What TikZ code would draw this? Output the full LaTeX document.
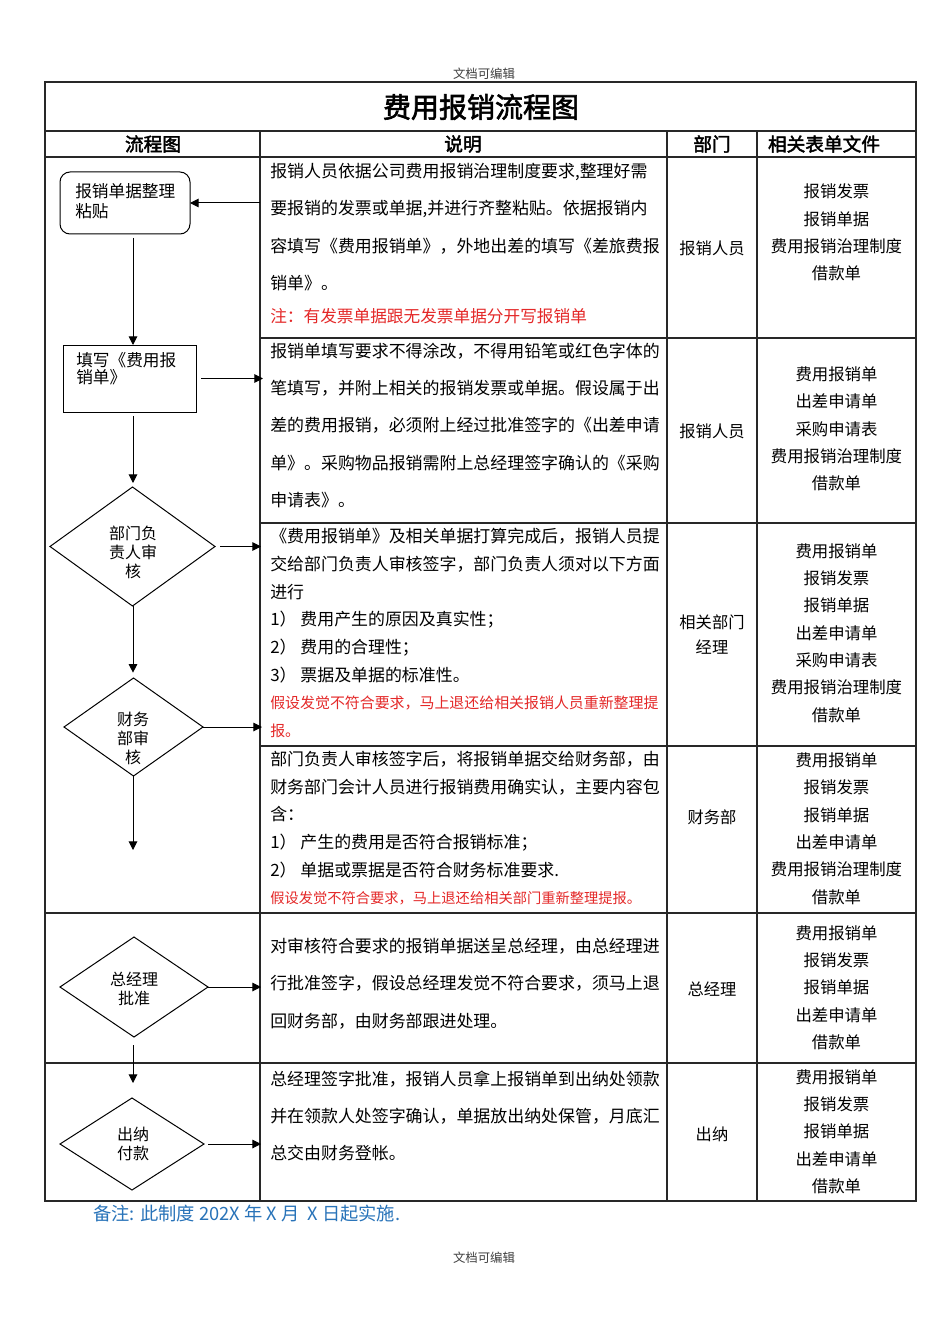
\documentclass[tikz,border=0pt]{standalone}
\usepackage{fontspec}
\usetikzlibrary{arrows.meta,shapes.geometric}
\newfontfamily\cjk{Noto Sans CJK SC}
\newfontfamily\cjkbf[FakeBold=2.2]{Noto Sans CJK SC}
\definecolor{notered}{RGB}{228,40,40}
\definecolor{noteblue}{RGB}{40,115,185}
\definecolor{gridc}{RGB}{40,40,40}
\begin{document}
\begin{tikzpicture}[x=0.75pt,y=-0.75pt,
  grid/.style={draw=gridc, line width=0.8pt},
  arr/.style={-{Triangle[length=6.5pt,width=6.5pt]}, line width=0.75pt, black},
  shapebox/.style={draw, line width=0.75pt, inner sep=0pt, outer sep=0pt},
  dia/.style={shapebox, diamond},
  desca/.style={anchor=west, align=left, inner sep=0pt, font=\cjk\fontsize{12.7pt}{28pt}\selectfont},
  descb/.style={anchor=west, align=left, inner sep=0pt, font=\cjk\fontsize{12.7pt}{20.8pt}\selectfont},
  redn/.style={anchor=west, align=left, inner sep=0pt, text=notered},
  dept/.style={align=center, inner sep=0pt, font=\cjk\fontsize{12.2pt}{18.75pt}\selectfont},
  files/.style={align=center, inner sep=0pt, font=\cjk\fontsize{12.3pt}{20.5pt}\selectfont},
  flowc/.style={align=center, inner sep=0pt, font=\cjk\fontsize{12pt}{14.25pt}\selectfont},
  flowl/.style={anchor=west, align=left, inner sep=0pt},
  hdr/.style={inner sep=0pt, font=\cjkbf\fontsize{14pt}{16pt}\selectfont},
  pagehd/.style={inner sep=0pt, text=black!75, font=\cjk\fontsize{9.3pt}{11pt}\selectfont}
]
\fill[white] (0,0) rectangle (950,1344);
\useasboundingbox (0,0) rectangle (950,1344);

% page header / footer
\node[pagehd] (ph) at (484,74) {文档可编辑};
\node[pagehd] (pf) at (484,1258) {文档可编辑};

% table grid
\draw[grid] (45,82) rectangle (916,1201);
\draw[grid] (45,131) -- (916,131);
\draw[grid] (45,157) -- (916,157);
\draw[grid] (260,131) -- (260,1201);
\draw[grid] (667,131) -- (667,1201);
\draw[grid] (757,131) -- (757,1201);
\draw[grid] (260,338) -- (916,338);
\draw[grid] (260,523) -- (916,523);
\draw[grid] (260,746) -- (916,746);
\draw[grid] (45,913) -- (916,913);
\draw[grid] (45,1063) -- (916,1063);

% title and headers
\node[inner sep=0pt, font=\cjkbf\fontsize{21pt}{24pt}\selectfont] (title) at (481,107) {费用报销流程图};
\node[hdr] (h1) at (153,144) {流程图};
\node[hdr] (h2) at (463,144) {说明};
\node[hdr] (h3) at (712,144) {部门};
\node[hdr] (h4) at (824,144) {相关表单文件};

% descriptions
\node[desca] (r1) at (270,227) {报销人员依据公司费用报销治理制度要求,整理好需\\要报销的发票或单据,并进行齐整粘贴。依据报销内\\容填写《费用报销单》，外地出差的填写《差旅费报\\销单》。};
\node[redn, font=\cjk\fontsize{12.5pt}{15pt}\selectfont] (r1n) at (270,316) {注：有发票单据跟无发票单据分开写报销单};

\node[desca] (r2) at (270,425.5) {报销单填写要求不得涂改，不得用铅笔或红色字体的\\笔填写，并附上相关的报销发票或单据。假设属于出\\差的费用报销，必须附上经过批准签字的《出差申请\\单》。采购物品报销需附上总经理签字确认的《采购\\申请表》。};

\node[descb] (r3) at (270,605.5) {《费用报销单》及相关单据打算完成后，报销人员提\\交给部门负责人审核签字，部门负责人须对以下方面\\进行\\1） 费用产生的原因及真实性；\\2） 费用的合理性；\\3） 票据及单据的标准性。};
\node[redn, font=\cjk\fontsize{11.2pt}{21pt}\selectfont] (r3n) at (270,717) {假设发觉不符合要求，马上退还给相关报销人员重新整理提\\报。};

\node[descb] (r4) at (270,814.5) {部门负责人审核签字后，将报销单据交给财务部，由\\财务部门会计人员进行报销费用确实认，主要内容包\\含：\\1） 产生的费用是否符合报销标准；\\2） 单据或票据是否符合财务标准要求.};
\node[redn, font=\cjk\fontsize{10.7pt}{13pt}\selectfont] (r4n) at (270,898) {假设发觉不符合要求，马上退还给相关部门重新整理提报。};

\node[desca] (r5) at (270,983.5) {对审核符合要求的报销单据送呈总经理，由总经理进\\行批准签字，假设总经理发觉不符合要求，须马上退\\回财务部，由财务部跟进处理。};

\node[desca] (r6) at (270,1116) {总经理签字批准，报销人员拿上报销单到出纳处领款\\并在领款人处签字确认，单据放出纳处保管，月底汇\\总交由财务登帐。};

% departments
\node[dept] (p1) at (712,248) {报销人员};
\node[dept] (p2) at (712,431) {报销人员};
\node[dept] (p3) at (712,634.5) {相关部门\\经理};
\node[dept] (p4) at (712,817) {财务部};
\node[dept] (p5) at (712,989) {总经理};
\node[dept] (p6) at (712,1134) {出纳};

% files
\node[files] (f1) at (836.5,232.5) {报销发票\\报销单据\\费用报销治理制度\\借款单};
\node[files] (f2) at (836.5,429) {费用报销单\\出差申请单\\采购申请表\\费用报销治理制度\\借款单};
\node[files] (f3) at (836.5,633) {费用报销单\\报销发票\\报销单据\\出差申请单\\采购申请表\\费用报销治理制度\\借款单};
\node[files] (f4) at (836.5,828.5) {费用报销单\\报销发票\\报销单据\\出差申请单\\费用报销治理制度\\借款单};
\node[files] (f5) at (836.5,987.5) {费用报销单\\报销发票\\报销单据\\出差申请单\\借款单};
\node[files] (f6) at (836.5,1131.5) {费用报销单\\报销发票\\报销单据\\出差申请单\\借款单};

% flowchart shapes
\node[shapebox, rounded corners=7.5pt, minimum width=97.5pt, minimum height=46.5pt] (b1) at (125,203) {};
\node[shapebox, minimum width=99.75pt, minimum height=50.25pt] (b2) at (129.5,378.5) {};
\node[dia, minimum width=123.75pt, minimum height=89.25pt] (d3) at (132.5,546.5) {};
\node[dia, minimum width=104.25pt, minimum height=73.5pt] (d4) at (133.5,727) {};
\node[dia, minimum width=111pt, minimum height=75pt] (d5) at (134,987) {};
\node[dia, minimum width=108pt, minimum height=69pt] (d6) at (132,1144) {};

% flowchart texts
\node[flowl, font=\cjk\fontsize{12.5pt}{15pt}\selectfont] (t1) at (75,201) {报销单据整理\\粘贴};
\node[flowl, font=\cjk\fontsize{12.5pt}{12.75pt}\selectfont] (t2) at (76,368.5) {填写《费用报\\销单》};
\node[flowc] (t3) at (133,552) {部门负\\责人审\\核};
\node[flowc] (t4) at (133,738) {财务\\部审\\核};
\node[flowc] (t5) at (134,988.5) {总经理\\批准};
\node[flowc] (t6) at (133,1143.5) {出纳\\付款};

% connector anchors
\coordinate (vx) at (133,0);
\coordinate (c1) at (260,203);
\coordinate (c2) at (263,378.5);
\coordinate (c3) at (261,546.5);
\coordinate (c4) at (262,727);
\coordinate (c5) at (133,850);
\coordinate (c6) at (261,987);
\coordinate (c7) at (133,1083);
\coordinate (c8) at (261,1144);

% connectors
\draw[arr] (c1) -- (b1.east);
\draw[arr] ([yshift=-3pt]b1.south -| vx) -- (b2.north -| vx);
\draw[arr] ([xshift=4pt]b2.east) -- (c2);
\draw[arr] ([yshift=-3pt]b2.south -| vx) -- ([yshift=3pt]d3.north -| vx);
\draw[arr] ([xshift=4pt]d3.east) -- (c3);
\draw[arr] (d3.south -| vx) -- ([yshift=4pt]d4.north -| vx);
\draw[arr] (d4.east) -- (c4);
\draw[arr] (d4.south -| vx) -- (c5);
\draw[arr] (d5.east) -- (c6);
\draw[arr] ([yshift=-6pt]d5.south -| vx) -- (c7);
\draw[arr] ([xshift=3pt]d6.east) -- (c8);

% footnote
\node[anchor=west, inner sep=0pt, text=noteblue, font=\cjk\fontsize{13.7pt}{16pt}\selectfont] (note) at (93,1214) {备注: 此制度 202X 年 X 月\ \ X 日起实施.};
\end{tikzpicture}
\end{document}
